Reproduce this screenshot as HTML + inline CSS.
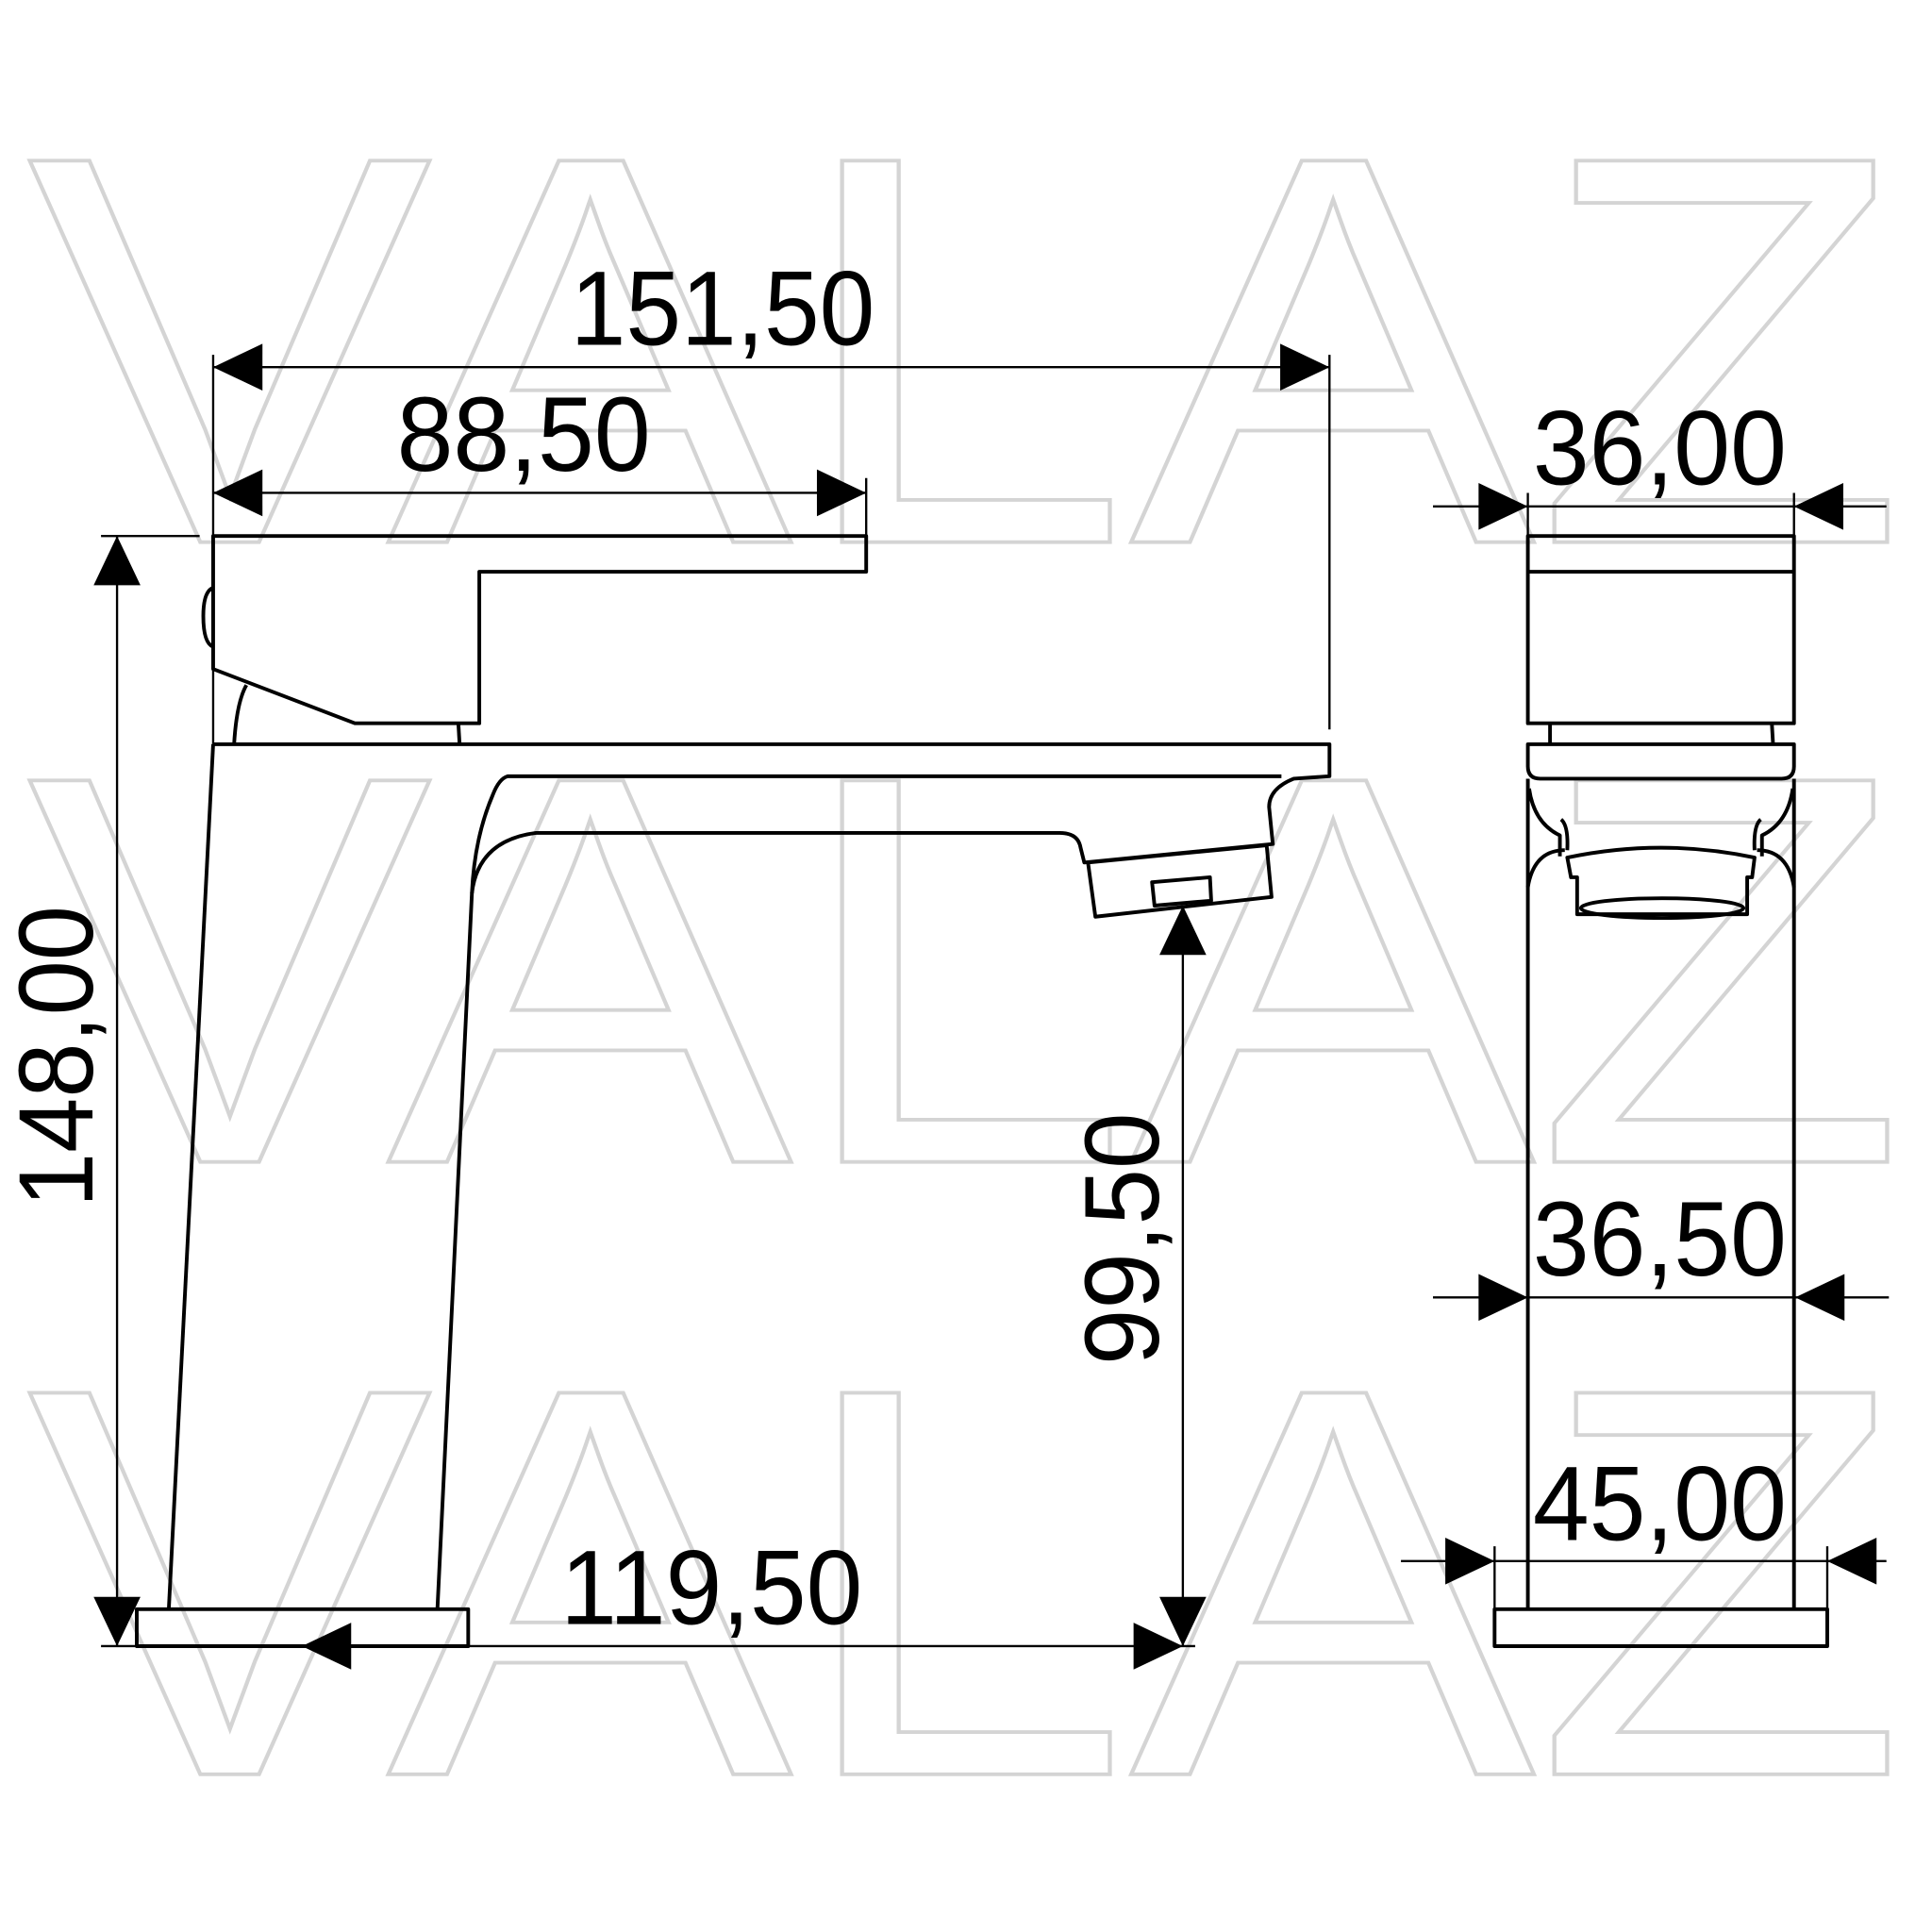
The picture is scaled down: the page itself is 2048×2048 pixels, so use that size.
<!DOCTYPE html>
<html><head><style>html,body{margin:0;padding:0;background:#fff}svg{display:block}</style></head><body>
<svg width="2048" height="2048" viewBox="0 0 1568 1568" xmlns="http://www.w3.org/2000/svg">
<g font-family="Liberation Sans, sans-serif" font-size="450" fill="none" stroke="#d4d4d4" stroke-width="3">
<text x="22" y="440" textLength="1525" lengthAdjust="spacingAndGlyphs">VALAZ</text>
<text x="22" y="943" textLength="1525" lengthAdjust="spacingAndGlyphs">VALAZ</text>
<text x="22" y="1440" textLength="1525" lengthAdjust="spacingAndGlyphs">VALAZ</text>
</g>
<g fill="none" stroke="#000" stroke-width="3" stroke-linejoin="round">
<path d="M173,435 L703,435 L703,464 L389,464 L389,587 L288,587 L173,543 Z"/>
<path d="M173,477 Q165,480 165,500 Q165,522 173,525"/>
<path d="M200,556 Q192,570 190,604"/>
<path d="M372,587 L373,604"/>
<path d="M173,604 L1079,604 L1079,630 L1050,632 Q1030,640 1030,655 L1033,685 L880,700 L877,688 Q875,676 860,676 L435,676 Q388,682 383,725 L355,1306"/>
<path d="M173,604 L137,1306"/>
<path d="M1040,630 L412,630 Q405,632 400,645 Q385,680 383,725"/>
<path d="M883,700 L1028,686 L1032,728 L889,744 Z"/>
<path d="M935,716 L982,712 L983,731 L937,735 Z"/>
<rect x="111" y="1306" width="269" height="30"/>
<rect x="1240" y="435" width="216" height="152"/>
<path d="M1240,464 L1456,464"/>
<path d="M1258,587 L1258,604 M1438,587 L1439,604"/>
<path d="M1240,604 L1456,604 L1456,622 Q1456,632 1446,632 L1250,632 Q1240,632 1240,622 Z"/>
<path d="M1240,632 L1240,1306 M1456,632 L1456,1306"/>
<path d="M1241,640 Q1245,668 1266,678 L1266,695 M1455,640 Q1451,668 1430,678 L1430,695"/>
<path d="M1240,720 Q1245,690 1270,690 M1456,720 Q1451,690 1426,690"/>
<path d="M1267,665 Q1273,670 1272,690 M1429,665 Q1423,670 1424,690"/>
<path d="M1272,696 Q1348,680 1424,696 L1422,712 L1418,712 L1418,742 L1280,742 L1280,712 L1275,712 Z"/>
<ellipse cx="1349" cy="737" rx="66" ry="8"/>
<rect x="1213" y="1306" width="270" height="30"/>
<g stroke-width="1.8">
<path d="M173,298 L1079,298 M173,288 L173,604 M1079,288 L1079,592"/>
<path d="M173,400 L703,400 M703,388 L703,435"/>
<path d="M95,435 L95,1336 M82,435 L162,435 M82,1336 L111,1336"/>
<path d="M960,735 L960,1336 M245,1336 L960,1336 M960,1336 L970,1336"/>
<path d="M1163,411 L1531,411 M1240,400 L1240,435 M1456,400 L1456,435"/>
<path d="M1163,1053 L1533,1053"/>
<path d="M1137,1267 L1531,1267 M1213,1255 L1213,1306 M1483,1255 L1483,1306"/>
</g>
</g>
<g fill="#000">
<path d="M173,298 L213,279 L213,317 Z"/><path d="M1079,298 L1039,279 L1039,317 Z"/>
<path d="M173,400 L213,381 L213,419 Z"/><path d="M703,400 L663,381 L663,419 Z"/>
<path d="M95,435 L76,475 L114,475 Z"/><path d="M95,1336 L76,1296 L114,1296 Z"/>
<path d="M960,735 L941,775 L979,775 Z"/><path d="M960,1336 L941,1296 L979,1296 Z"/>
<path d="M245,1336 L285,1317 L285,1355 Z"/><path d="M960,1336 L920,1317 L920,1355 Z"/>
<path d="M1240,411 L1200,392 L1200,430 Z"/><path d="M1456,411 L1496,392 L1496,430 Z"/>
<path d="M1240,1053 L1200,1034 L1200,1072 Z"/><path d="M1457,1053 L1497,1034 L1497,1072 Z"/>
<path d="M1213,1267 L1173,1248 L1173,1286 Z"/><path d="M1483,1267 L1523,1248 L1523,1286 Z"/>
</g>
<g font-family="Liberation Sans, sans-serif" font-size="86" fill="#000" lengthAdjust="spacingAndGlyphs">
<text x="463" y="280" textLength="247" lengthAdjust="spacingAndGlyphs">151,50</text>
<text x="322" y="382" textLength="206" lengthAdjust="spacingAndGlyphs">88,50</text>
<text x="455" y="1318" textLength="245" lengthAdjust="spacingAndGlyphs">119,50</text>
<text x="1244" y="393" textLength="206" lengthAdjust="spacingAndGlyphs">36,00</text>
<text x="1244" y="1035" textLength="206" lengthAdjust="spacingAndGlyphs">36,50</text>
<text x="1244" y="1250" textLength="206" lengthAdjust="spacingAndGlyphs">45,00</text>
<text transform="translate(75,980) rotate(-90)" textLength="245" lengthAdjust="spacingAndGlyphs">148,00</text>
<text transform="translate(940,1108) rotate(-90)" textLength="205" lengthAdjust="spacingAndGlyphs">99,50</text>
</g>
</svg>
</body></html>
